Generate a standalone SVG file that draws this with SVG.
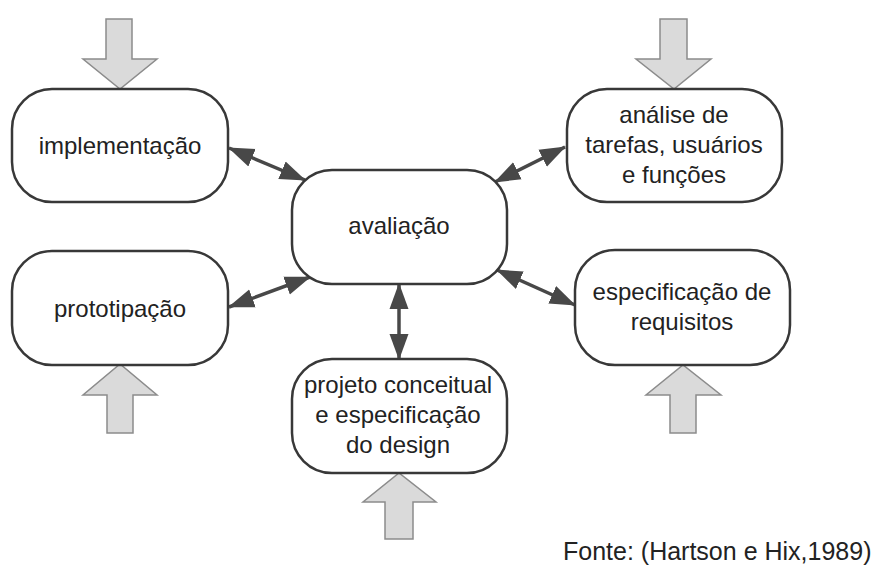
<svg xmlns="http://www.w3.org/2000/svg" width="877" height="570" viewBox="0 0 877 570">
<style>
.box{fill:#ffffff;stroke:#383838;stroke-width:2.5}
.lbl{font-family:"Liberation Sans",Arial,sans-serif;font-size:24px;fill:#222;text-anchor:middle}
.big{fill:#dadada;stroke:#8c8c8c;stroke-width:1.5;stroke-linejoin:miter}
.con{stroke:#484848;stroke-width:3.5;fill:none;marker-start:url(#ah);marker-end:url(#ah)}
.src{font-family:"Liberation Sans",Arial,sans-serif;font-size:25px;fill:#222}
</style>
<defs>
<marker id="ah" markerUnits="userSpaceOnUse" markerWidth="26" markerHeight="20" refX="25" refY="9.5" orient="auto-start-reverse" viewBox="0 0 26 19">
<path d="M0,0 L26,9.5 L0,19 Z" fill="#484848"/>
</marker>
</defs>
<rect width="877" height="570" fill="#ffffff"/>
<g id="connectors">
<line class="con" x1="229" y1="148" x2="305" y2="180"/>
<line class="con" x1="229" y1="307" x2="310" y2="277"/>
<line class="con" x1="565" y1="147" x2="495" y2="182"/>
<line class="con" x1="497" y1="270" x2="575" y2="305"/>
<line class="con" x1="399" y1="284" x2="399" y2="359"/>
</g>
<g id="input-arrows">
<polygon class="big" points="106,19 132,19 132,59 157,59 120,89 83,59 106,59"/>
<polygon class="big" points="660,19 687,19 687,59 711,59 674,89 636,59 660,59"/>
<polygon class="big" points="107,433 133,433 133,395 157,395 120,364 83,395 107,395"/>
<polygon class="big" points="385,539 413,539 413,502 436,502 399,473 363,502 385,502"/>
<polygon class="big" points="670,433 696,433 696,395 721,395 683,365 646,395 670,395"/>
</g>
<g id="implementacao">
<rect class="box" x="12" y="89" width="216" height="113" rx="40"/>
<text class="lbl" x="120" y="154">implementação</text>
</g>
<g id="analise">
<rect class="box" x="567" y="89" width="215" height="113" rx="40"/>
<text class="lbl" x="674" y="123">análise de</text>
<text class="lbl" x="674" y="153">tarefas, usuários</text>
<text class="lbl" x="674" y="183">e funções</text>
</g>
<g id="avaliacao">
<rect class="box" x="292" y="170" width="215" height="114" rx="40"/>
<text class="lbl" x="399" y="234">avaliação</text>
</g>
<g id="prototipacao">
<rect class="box" x="12" y="251" width="216" height="114" rx="40"/>
<text class="lbl" x="120" y="317">prototipação</text>
</g>
<g id="especificacao">
<rect class="box" x="575" y="250" width="215" height="115" rx="40"/>
<text class="lbl" x="682" y="300">especificação de</text>
<text class="lbl" x="682" y="330">requisitos</text>
</g>
<g id="projeto">
<rect class="box" x="292" y="359" width="215" height="114" rx="40"/>
<text class="lbl" x="398" y="393">projeto conceitual</text>
<text class="lbl" x="398" y="423">e especificação</text>
<text class="lbl" x="398" y="453">do design</text>
</g>
<text class="src" x="563" y="560">Fonte: (Hartson e Hix,1989)</text>
</svg>
